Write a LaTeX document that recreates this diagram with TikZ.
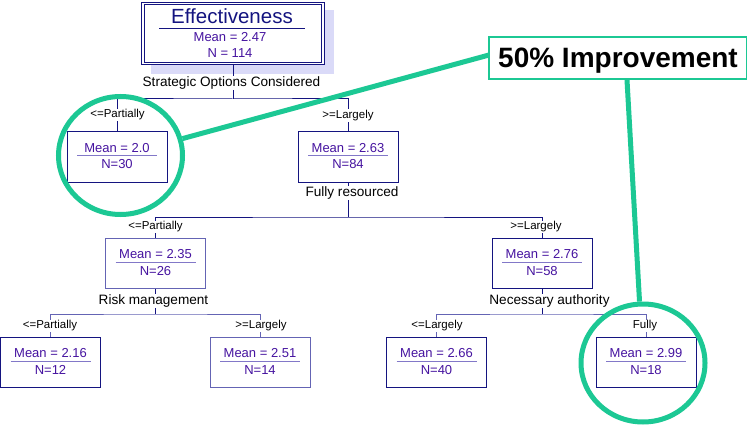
\documentclass[tikz,border=0pt]{standalone}
\usepackage{fontspec}
\setmainfont{Liberation Sans}
\usetikzlibrary{calc,shapes.geometric}
\definecolor{navy}{RGB}{20,20,128}
\definecolor{lnavy}{RGB}{100,100,180}
\definecolor{sepcol}{RGB}{130,120,200}
\definecolor{txtcol}{RGB}{70,20,160}
\definecolor{hlgreen}{RGB}{28,200,148}
\definecolor{shadowcol}{RGB}{218,218,248}
\tikzset{
 box/.style={draw=navy, line width=1pt, fill=white, minimum width=100pt, minimum height=50pt, inner sep=0pt},
 lbox/.style={box, draw=lnavy},
 val/.style={text=txtcol, font=\fontsize{13}{15}\selectfont, inner sep=0pt},
 sepline/.style={draw=sepcol, line width=1pt},
 tree/.style={draw=navy, line width=1pt},
 ltree/.style={draw=lnavy, line width=1pt},
 vlab/.style={font=\fontsize{13.6}{16}\selectfont, fill=white, inner sep=1pt},
 blab/.style={font=\fontsize{11.5}{13}\selectfont, fill=white, inner sep=1pt},
 ring/.style={ellipse, draw=hlgreen, line width=5pt, minimum width=124pt, minimum height=118pt, inner sep=0pt},
 gline/.style={draw=hlgreen, line width=5pt},
}
\newcommand\treebox[6]{%
 \node[#6] (#1) at (#2,#3) {};
 \node[val] (#1m) at ($(#1.center)+(0,-9)$) {Mean = #4};
 \draw[sepline] ($(#1.center)+(-40,-1)$) -- ($(#1.center)+(40,-1)$);
 \node[val] (#1n) at ($(#1.center)+(0,7.5)$) {N=#5};
}
\begin{document}
\begin{tikzpicture}[x=1pt,y=-1pt]
\useasboundingbox[fill=white] (0,0) rectangle (747,425);
% root
\node[fill=shadowcol, minimum width=183pt, minimum height=64pt, inner sep=0pt] (rootsh) at (242.5,42) {};
\node[draw=navy, line width=1pt, double=white, double distance=1.6pt, fill=white, minimum width=180pt, minimum height=60pt, inner sep=0pt] (root) at (233,33.5) {};
\node[font=\fontsize{20.5}{24}\selectfont, text=navy, inner sep=0pt] (title) at (232,16) {Effectiveness};
\draw[draw=navy, line width=1pt] (159,29) -- (305,29);
\node[val] (rm) at (230,37.5) {Mean = 2.47};
\node[val] (rn) at (230,53) {N = 114};
% junctions
\coordinate (j1) at (233,99);
\coordinate (j2) at (348,217);
\coordinate (j3) at (155.5,314);
\coordinate (j4) at (542,314);
% boxes (placed first as coordinates, drawn later)
\node[box] (b20) at (117,157) {};
\node[box] (b263) at (348,157) {};
\node[box] (b235) at (155.5,263.5) {};
\node[box] (b276) at (542,263.5) {};
\node[box] (b216) at (50.5,362.5) {};
\node[box] (b251) at (260,362.5) {};
\node[box] (b266) at (436.5,362.5) {};
\node[box] (b299) at (646,362.5) {};
% tree lines
\draw[tree] (root.south) -- (j1);
\draw[tree] (b20.north) |- (j1) -| (b263.north);
\draw[tree] (b263.south) -- (j2);
\draw[tree] (b235.north) |- (j2) -| (b276.north);
\draw[tree] (b235.south) -- (j3);
\draw[ltree] (b216.north) |- (j3) -| (b251.north);
\draw[tree] (b276.south) -- (j4);
\draw[ltree] (b266.north) |- (j4) -| (b299.north);
% labels
\node[vlab] (l0) at (231.5,83) {Strategic Options Considered};
\node[blab] (l1) at (117.5,115) {<=Partially};
\node[blab] (l2) at (348,115.5) {>=Largely};
\node[vlab] (l3) at (352,193) {Fully resourced};
\node[blab] (l4) at (155.5,227) {<=Partially};
\node[blab] (l5) at (536,227) {>=Largely};
\node[vlab] (l6) at (153.5,301) {Risk management};
\node[vlab] (l7) at (549.5,301) {Necessary authority};
\node[blab] (l8) at (50,326) {<=Partially};
\node[blab] (l9) at (261,326) {>=Largely};
\node[blab] (l10) at (437,326) {<=Largely};
\node[blab] (l11) at (645,326) {Fully};
% boxes with contents
\treebox{b20}{117}{157}{2.0}{30}{box}
\treebox{b263}{348}{157}{2.63}{84}{box}
\treebox{b235}{155.5}{263.5}{2.35}{26}{lbox}
\treebox{b276}{542}{263.5}{2.76}{58}{box}
\treebox{b216}{50.5}{362.5}{2.16}{12}{box}
\treebox{b251}{260}{362.5}{2.51}{14}{lbox}
\treebox{b266}{436.5}{362.5}{2.66}{40}{box}
\treebox{b299}{646}{362.5}{2.99}{18}{box}
% highlights
\node[ring] (c1) at (120.5,155.5) {};
\node[ring] (c2) at (643,363) {};
\coordinate (a1) at (489,55);
\coordinate (a2) at (627,80);
\draw[gline] (c1) -- (a1);
\draw[gline] (a2) -- (c2);
\node[draw=hlgreen, line width=1.3pt, fill=white, minimum width=258pt, minimum height=42pt, font=\bfseries\fontsize{28}{32}\selectfont, text height=20pt, text depth=0pt] (imp) at (618,58) {50\% Improvement};
\end{tikzpicture}
\end{document}
